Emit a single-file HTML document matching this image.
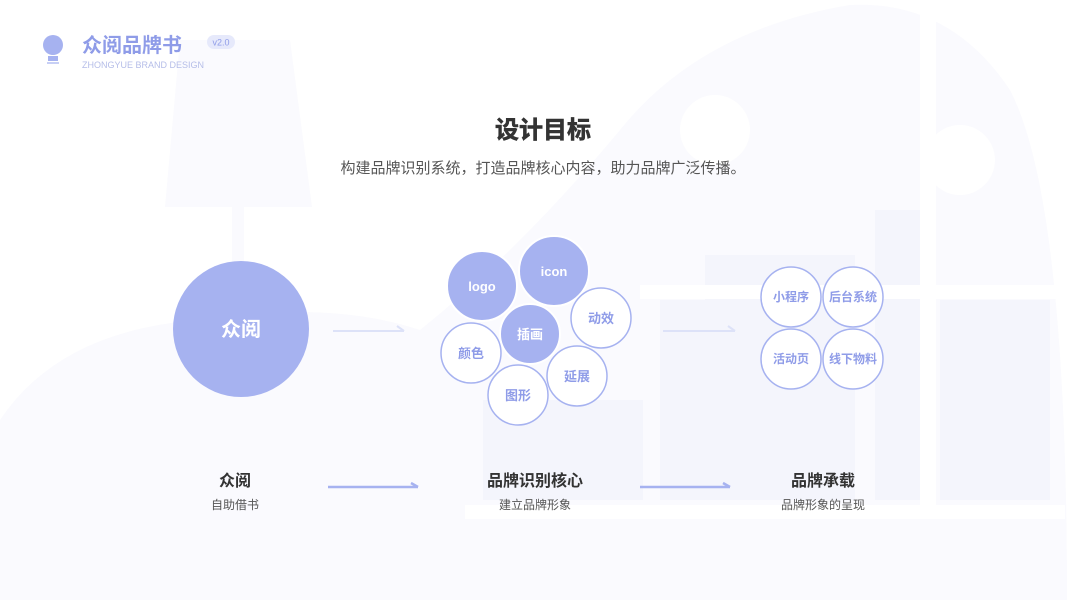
<!DOCTYPE html>
<html><head><meta charset="utf-8"><style>
html,body{margin:0;padding:0;background:#fff;}
body{width:1067px;height:600px;overflow:hidden;font-family:"Liberation Sans","Noto Sans CJK SC",sans-serif;}
</style></head><body>
<svg width="1067" height="600" viewBox="0 0 1067 600" xmlns="http://www.w3.org/2000/svg" font-family="Liberation Sans, Noto Sans CJK SC, sans-serif">
<g fill="#fafafe">
<path d="M180 40 L290 40 L312 207 L165 207 Z"/>
<rect x="232" y="207" width="12" height="60"/>
<path d="M0 600 L0 420 Q60 330 200 320 Q330 300 420 330 Q520 250 620 130 Q700 30 850 5 Q950 0 1010 90 Q1067 200 1067 600 Z"/>
</g>
<g fill="#f4f5fc">
<rect x="483" y="400" width="160" height="100"/>
<rect x="660" y="300" width="195" height="200"/>
<rect x="875" y="210" width="45" height="290"/>
<rect x="940" y="300" width="110" height="200"/>
<rect x="705" y="255" width="150" height="45"/>
</g>
<g fill="#fff">
<rect x="465" y="505" width="600" height="14"/>
<rect x="920" y="0" width="16" height="505"/>
<rect x="640" y="285" width="427" height="14"/>
<circle cx="715" cy="130" r="35"/>
<circle cx="960" cy="160" r="35"/>
</g>
<circle cx="53" cy="45" r="10" fill="#a6b2f0"/>
<rect x="48" y="56" width="10" height="5" fill="#a6b2f0"/>
<rect x="47" y="62" width="12" height="2" fill="#c7cff5"/>
<text x="82" y="52" font-size="20" font-weight="bold" fill="#8f9ce8">众阅品牌书</text>
<rect x="207" y="35" width="28" height="14" rx="7" fill="#e6e9fb"/>
<text x="221" y="45.5" font-size="9" text-anchor="middle" fill="#8f9ce8">v2.0</text>
<text x="82" y="68" font-size="9" fill="#b5bde8">ZHONGYUE BRAND DESIGN</text>
<text x="543" y="138" font-size="24" font-weight="bold" text-anchor="middle" fill="#333" stroke="#333" stroke-width="0.6">设计目标</text>
<text x="543" y="173" font-size="15" text-anchor="middle" fill="#555">构建品牌识别系统，打造品牌核心内容，助力品牌广泛传播。</text>
<circle cx="241" cy="329" r="68" fill="#a6b2f0"/>
<text x="241" y="336" font-size="20" font-weight="bold" text-anchor="middle" fill="#fff">众阅</text>
<g stroke="#dde2f8" stroke-width="2" fill="none"><line x1="333" y1="331" x2="404" y2="331"/><line x1="397" y1="326" x2="404" y2="331"/>
<line x1="663" y1="331" x2="735" y2="331"/><line x1="728" y1="326" x2="735" y2="331"/></g>
<g stroke="#a6b2f0" stroke-width="2.5" fill="none"><line x1="328" y1="487" x2="418" y2="487"/><line x1="411" y1="483" x2="418" y2="487"/>
<line x1="640" y1="487" x2="730" y2="487"/><line x1="723" y1="483" x2="730" y2="487"/></g>
<g font-weight="bold" text-anchor="middle" font-size="13">
<circle cx="482" cy="286" r="35" fill="#a6b2f0" stroke="#fff" stroke-width="2"/>
<circle cx="554" cy="271" r="35" fill="#a6b2f0" stroke="#fff" stroke-width="2"/>
<circle cx="601" cy="318" r="30" fill="#fff" stroke="#a6b2f0" stroke-width="1.5"/>
<circle cx="471" cy="353" r="30" fill="#fff" stroke="#a6b2f0" stroke-width="1.5"/>
<circle cx="577" cy="376" r="30" fill="#fff" stroke="#a6b2f0" stroke-width="1.5"/>
<circle cx="518" cy="395" r="30" fill="#fff" stroke="#a6b2f0" stroke-width="1.5"/>
<circle cx="530" cy="334" r="30" fill="#a6b2f0" stroke="#fff" stroke-width="2"/>
<text x="482" y="291" fill="#fff">logo</text>
<text x="554" y="276" fill="#fff">icon</text>
<text x="530" y="339" fill="#fff">插画</text>
<text x="601" y="323" fill="#8f9ce8">动效</text>
<text x="471" y="358" fill="#8f9ce8">颜色</text>
<text x="577" y="381" fill="#8f9ce8">延展</text>
<text x="518" y="400" fill="#8f9ce8">图形</text>
</g>
<g font-weight="bold" text-anchor="middle" font-size="12" fill="#8f9ce8">
<g fill="#fff" stroke="#a6b2f0" stroke-width="1.5">
<circle cx="791" cy="297" r="30"/><circle cx="853" cy="297" r="30"/><circle cx="791" cy="359" r="30"/><circle cx="853" cy="359" r="30"/></g>
<text x="791" y="301">小程序</text><text x="853" y="301">后台系统</text>
<text x="791" y="363">活动页</text><text x="853" y="363">线下物料</text>
</g>
<g text-anchor="middle">
<text x="235" y="486" font-size="16" font-weight="bold" fill="#333">众阅</text>
<text x="235" y="509" font-size="12" fill="#555">自助借书</text>
<text x="535" y="486" font-size="16" font-weight="bold" fill="#333">品牌识别核心</text>
<text x="535" y="509" font-size="12" fill="#555">建立品牌形象</text>
<text x="823" y="486" font-size="16" font-weight="bold" fill="#333">品牌承载</text>
<text x="823" y="509" font-size="12" fill="#555">品牌形象的呈现</text>
</g>
</svg>
</body></html>
